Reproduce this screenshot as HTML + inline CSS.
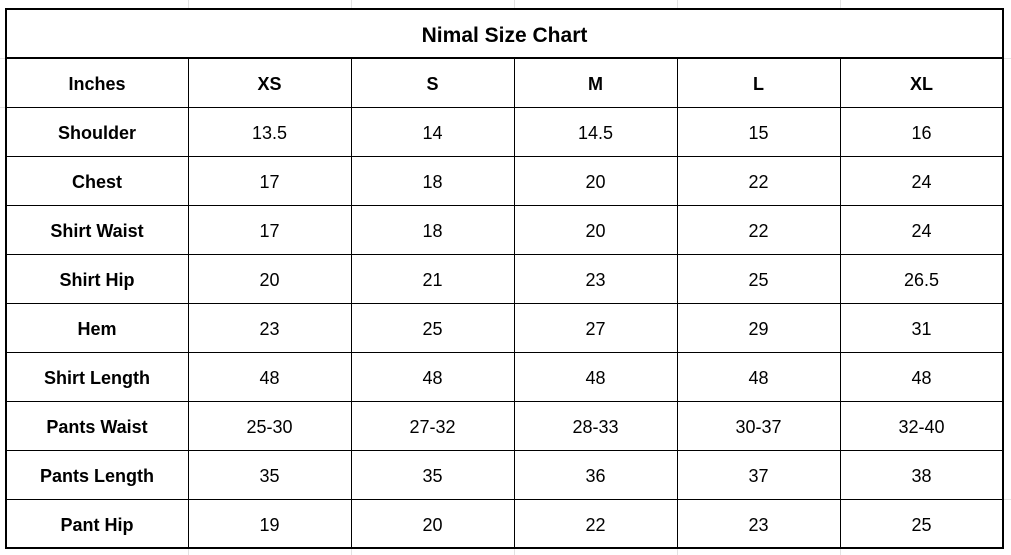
<!DOCTYPE html>
<html><head><meta charset="utf-8"><style>
body{margin:0;width:1011px;height:555px;background:#fff;position:relative;overflow:hidden;font-family:"Liberation Sans",sans-serif;color:#000}
.g{position:absolute;background:#e2e2e2}
.l{position:absolute;background:#000}
.c{position:absolute;display:flex;align-items:center;justify-content:center;font-size:18px}
.b{font-weight:bold}
</style></head><body>
<div class="g" style="left:188px;top:0;width:1px;height:9px"></div>
<div class="g" style="left:351px;top:0;width:1px;height:9px"></div>
<div class="g" style="left:514px;top:0;width:1px;height:9px"></div>
<div class="g" style="left:677px;top:0;width:1px;height:9px"></div>
<div class="g" style="left:840px;top:0;width:1px;height:9px"></div>
<div class="g" style="left:188px;top:549px;width:1px;height:6px"></div>
<div class="g" style="left:351px;top:549px;width:1px;height:6px"></div>
<div class="g" style="left:514px;top:549px;width:1px;height:6px"></div>
<div class="g" style="left:677px;top:549px;width:1px;height:6px"></div>
<div class="g" style="left:840px;top:549px;width:1px;height:6px"></div>
<div class="g" style="left:1004px;top:58px;width:7px;height:1px"></div>
<div class="g" style="left:1004px;top:499px;width:7px;height:1px"></div>
<div class="g" style="left:0;top:58px;width:5px;height:1px"></div>
<div class="g" style="left:0;top:107px;width:5px;height:1px"></div>
<div id="t"></div>
<script>
var t=document.getElementById('t'),h='';
var cols=[6,188,351,514,677,840,1003];
var rows=[58,107,156,205,254,303,352,401,450,499,548];
h+='<div class="l" style="left:5px;top:8px;width:999px;height:2px"></div>';
h+='<div class="l" style="left:5px;top:547px;width:999px;height:2px"></div>';
h+='<div class="l" style="left:5px;top:8px;width:2px;height:541px"></div>';
h+='<div class="l" style="left:1002px;top:8px;width:2px;height:541px"></div>';
h+='<div class="l" style="left:5px;top:57px;width:999px;height:2px"></div>';
for(var i=1;i<rows.length-1;i++)h+='<div class="l" style="left:6px;top:'+rows[i]+'px;width:997px;height:1px"></div>';
for(var j=1;j<cols.length-1;j++)h+='<div class="l" style="left:'+cols[j]+'px;top:58px;width:1px;height:490px"></div>';
h+='<div class="c b" style="left:6px;top:12px;width:997px;height:48px;font-size:21px">Nimal Size Chart</div>';
var d=[["Inches","XS","S","M","L","XL"],
["Shoulder","13.5","14","14.5","15","16"],
["Chest","17","18","20","22","24"],
["Shirt Waist","17","18","20","22","24"],
["Shirt Hip","20","21","23","25","26.5"],
["Hem","23","25","27","29","31"],
["Shirt Length","48","48","48","48","48"],
["Pants Waist","25-30","27-32","28-33","30-37","32-40"],
["Pants Length","35","35","36","37","38"],
["Pant Hip","19","20","22","23","25"]];
for(var r=0;r<d.length;r++)for(var c=0;c<6;c++){
var bold=(r==0||c==0)?' b':'';
h+='<div class="c'+bold+'" style="left:'+cols[c]+'px;top:'+(rows[r]+2)+'px;width:'+(cols[c+1]-cols[c])+'px;height:'+(rows[r+1]-rows[r])+'px">'+d[r][c]+'</div>';}
t.innerHTML=h;
</script>
</body></html>
